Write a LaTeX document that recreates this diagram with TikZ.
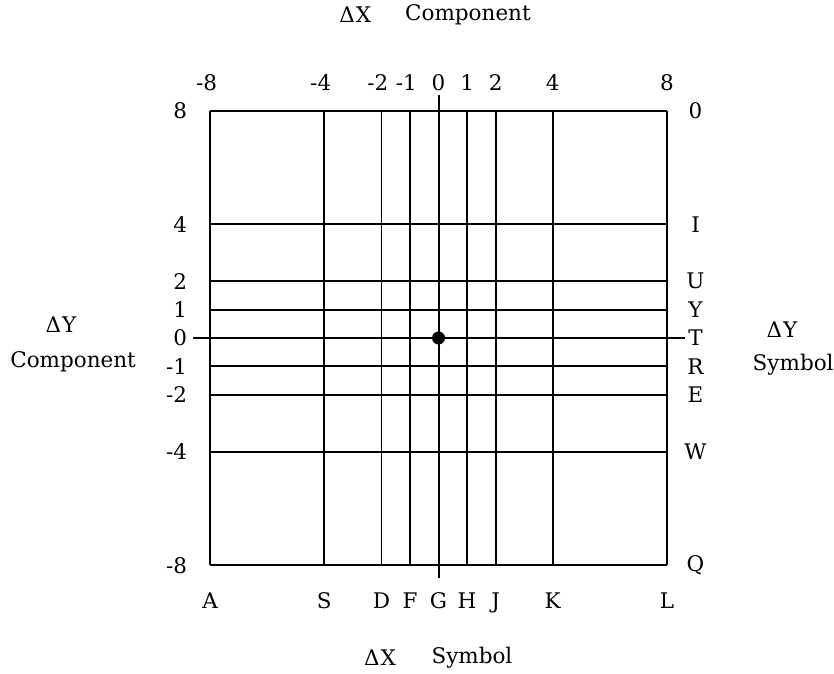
\documentclass[tikz,border=0pt]{standalone}
\usepackage{fontspec}
\setmainfont{DejaVu Serif}
\begin{document}
\begin{tikzpicture}[x=28.55bp,y=28.4bp,font=\fontsize{21.5bp}{25bp}\selectfont]
  \tikzset{
    gridline/.style={line width=1.9bp},
    lbl/.style={inner sep=0pt},
    leftnum/.style={lbl,anchor=east},
    botlet/.style={lbl,anchor=base},
    dot/.style={circle,fill=black,inner sep=0pt,minimum size=13bp}
  }
  \useasboundingbox (-15.36,-11.80) rectangle (13.85,11.90);

  % grid lines, numbers and symbols
  \foreach \v/\num/\sym/\rsym [count=\i] in {-8/\llap{-}8/A/Q, -4/\llap{-}4/S/W,
      -2/\llap{-}2/D/E, -1/\llap{-}1/F/R, 0/0/G/T, 1/1/H/Y, 2/2/J/U, 4/4/K/I, 8/8/L/0} {
    \draw[gridline] (\v,-8) -- (\v,8);
    \draw[gridline] (-8,\v) -- (8,\v);
    \node[lbl] (top\i) at (\v,9.0) {\num};
    \node[botlet] (bot\i) at (\v,-9.51) {\sym};
    \node[leftnum] (lft\i) at (-8.8,\v) {\v};
    \node[lbl] (rgt\i) at (9.0,\v) {\rsym};
  }
  \draw[gridline] (0,-8.45) -- (0,8.56);
  \draw[gridline] (-8.6,0) -- (8.62,0);
  \node[dot] (origin) at (0,0) {};

  % axis titles
  \node[lbl] (dxtop) at (-2.92,11.37) {Δ\kern1bp X};
  \node[lbl] (comptop) at (1.03,11.37) {Component};
  \node[lbl] (dxbot) at (-2.05,-11.27) {Δ\kern1bp X};
  \node[lbl] (symbot) at (1.17,-11.27) {Symbol};
  \node[lbl] (dyleft) at (-13.22,0.46) {Δ\kern1bp Y};
  \node[lbl] (compleft) at (-12.80,-0.85) {Component};
  \node[lbl] (dyright) at (12.03,0.28) {Δ\kern1bp Y};
  \node[lbl] (symright) at (12.42,-0.95) {Symbol};
\end{tikzpicture}
\end{document}
